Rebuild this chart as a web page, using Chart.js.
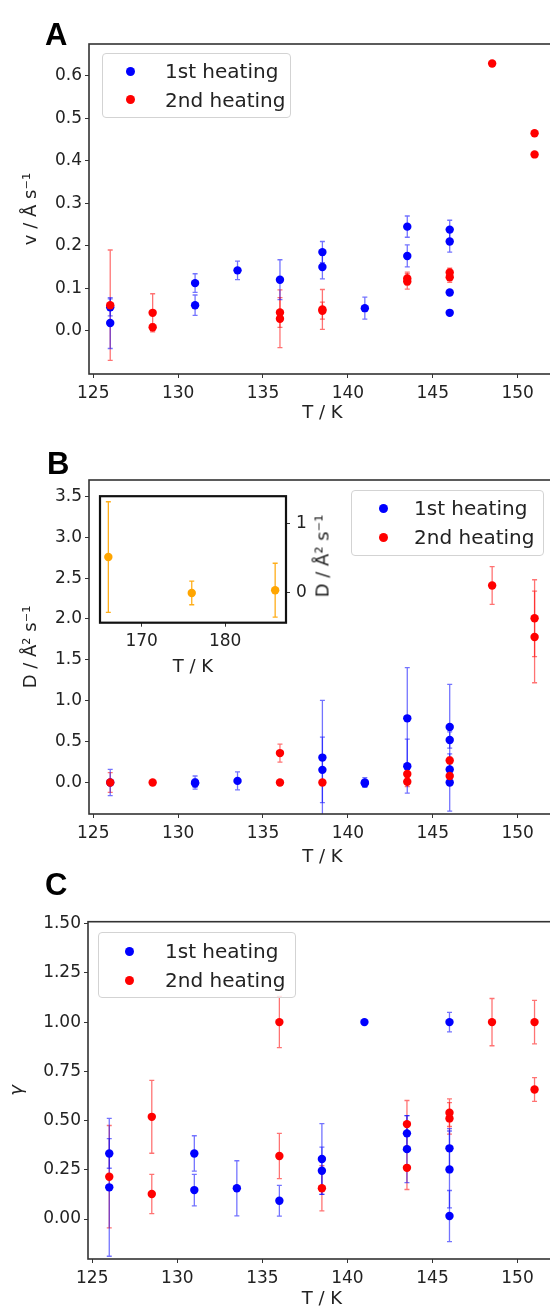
<!DOCTYPE html>
<html><head><meta charset="utf-8">
<script src="https://cdn.jsdelivr.net/npm/chart.js@4.4.1/dist/chart.umd.min.js"></script>
<style>
html,body{margin:0;padding:0;background:#fff;width:550px;height:1310px;overflow:hidden;}
#wrap{position:relative;width:550px;height:1310px;overflow:hidden;}
canvas{position:absolute;left:0;}
.letter{position:absolute;font:bold 31px "Liberation Sans",Arial,sans-serif;line-height:31px;color:#000;}
.legend{position:absolute;background:rgba(255,255,255,0.8);border:1px solid #d3d3d3;border-radius:4px;box-sizing:border-box;font:20px "DejaVu Sans";color:#222;}
.legend .row{position:absolute;height:24px;line-height:24px;white-space:nowrap;}
.legend .dot{position:absolute;width:9px;height:9px;border-radius:50%;}
.ylab{position:absolute;font:18px "DejaVu Sans";color:#222;white-space:nowrap;transform:translate(-50%,-50%) rotate(-90deg);}
</style></head>
<body><div id="wrap">
<canvas id="cA" width="560" height="425" style="top:0px"></canvas>
<canvas id="cB" width="560" height="440" style="top:430px"></canvas>
<canvas id="cIn" width="266" height="200" style="top:480px;left:60px"></canvas>
<canvas id="cC" width="560" height="440" style="top:870px"></canvas>
<div class="letter" style="left:45px;top:19px">A</div>
<div class="letter" style="left:47px;top:448px">B</div>
<div class="letter" style="left:45px;top:869px">C</div>
<div class="ylab" style="left:322px;top:556px">D / Å² s⁻¹</div>
</div>
<script>
// ---------------- DATA ----------------
const FONT = '"DejaVu Sans", sans-serif';
const seriesNames = ['1st heating', '2nd heating'];
const xTicks = [125, 130, 135, 140, 145, 150];
const yTicksA = [0.0, 0.1, 0.2, 0.3, 0.4, 0.5, 0.6];
const yTicksB = [0.0, 0.5, 1.0, 1.5, 2.0, 2.5, 3.0, 3.5];
const yTicksC = [0.00, 0.25, 0.50, 0.75, 1.00, 1.25, 1.50];
const xTicksIn = [170, 180];
const yTicksIn = [0, 1];

// Panel A: v / Å s^-1
const tA1 = [126, 126, 131, 131, 133.5, 136, 138.5, 138.5, 141, 143.5, 143.5, 146, 146, 146, 146];
const vA1 = [0.055, 0.018, 0.112, 0.060, 0.142, 0.120, 0.185, 0.150, 0.053, 0.245, 0.176, 0.238, 0.210, 0.090, 0.042];
const eA1 = [0.020, 0.060, 0.022, 0.024, 0.022, 0.047, 0.025, 0.028, 0.026, 0.025, 0.026, 0.022, 0.025, 0.006, 0.005];
const tA2 = [126, 128.5, 128.5, 136, 136, 138.5, 138.5, 143.5, 143.5, 146, 146, 148.5, 151, 151];
const vA2 = [0.060, 0.042, 0.008, 0.043, 0.028, 0.050, 0.047, 0.123, 0.116, 0.137, 0.126, 0.629, 0.465, 0.415];
const eA2 = [0.130, 0.045, 0.008, 0.035, 0.068, 0.047, 0.020, 0.015, 0.018, 0.010, 0.012, 0, 0, 0];

// Panel B: D / Å^2 s^-1
const tB1 = [126, 131, 131, 133.5, 138.5, 138.5, 141, 141, 143.5, 143.5, 146, 146, 146, 146];
const vB1 = [0.0, 0.0, -0.01, 0.02, 0.305, 0.155, 0.0, -0.01, 0.785, 0.20, 0.68, 0.52, 0.16, 0.0];
const eB1 = [0.16, 0.08, 0.05, 0.11, 0.70, 0.40, 0.06, 0.04, 0.62, 0.33, 0.52, 0.10, 0.10, 0.35];
const tB2 = [126, 128.5, 136, 136, 138.5, 143.5, 143.5, 146, 146, 148.5, 151, 151];
const vB2 = [0.0, 0.0, 0.36, 0.0, 0.0, 0.105, 0.01, 0.27, 0.08, 2.41, 2.01, 1.78];
const eB2 = [0.12, 0.02, 0.11, 0.02, 0.02, 0.05, 0.06, 0.04, 0.03, 0.23, 0.47, 0.56];

// Panel B inset
const tIn = [166, 176, 186];
const vIn = [0.52, 0.0, 0.04];
const eIn = [0.80, 0.17, 0.39];

// Panel C: gamma
const tC1 = [126, 126, 131, 131, 133.5, 136, 138.5, 138.5, 141, 143.5, 143.5, 146, 146, 146, 146];
const vC1 = [0.333, 0.161, 0.333, 0.147, 0.156, 0.093, 0.305, 0.245, 1.0, 0.435, 0.355, 1.0, 0.359, 0.252, 0.015];
const eC1 = [0.075, 0.35, 0.09, 0.08, 0.14, 0.078, 0.18, 0.12, 0, 0.09, 0.17, 0.05, 0.10, 0.195, 0.13];
const tC2 = [126, 128.5, 128.5, 136, 136, 138.5, 143.5, 143.5, 146, 146, 148.5, 151, 151];
const vC2 = [0.215, 0.519, 0.127, 1.0, 0.32, 0.156, 0.482, 0.26, 0.54, 0.511, 1.0, 1.0, 0.658];
const eC2 = [0.26, 0.185, 0.10, 0.13, 0.115, 0.115, 0.12, 0.11, 0.07, 0.08, 0.12, 0.11, 0.06];

// ---------------- PLUGINS ----------------
const errorBars = {
  id: 'errorBars',
  beforeDatasetsDraw(chart) {
    const {ctx, chartArea: a, scales: {x, y}} = chart;
    ctx.save();
    ctx.beginPath(); ctx.rect(a.left, a.top, a.right - a.left, a.bottom - a.top); ctx.clip();
    chart.data.datasets.forEach(ds => {
      if (!ds.errors) return;
      ctx.strokeStyle = ds.errColor; ctx.lineWidth = 1.3;
      ds.data.forEach((p, i) => {
        const e = ds.errors[i]; if (!e) return;
        const px = x.getPixelForValue(p.x);
        const y1 = y.getPixelForValue(p.y - e), y2 = y.getPixelForValue(p.y + e);
        ctx.beginPath();
        ctx.moveTo(px, y1); ctx.lineTo(px, y2);
        ctx.moveTo(px - 2.5, y1); ctx.lineTo(px + 2.5, y1);
        ctx.moveTo(px - 2.5, y2); ctx.lineTo(px + 2.5, y2);
        ctx.stroke();
      });
    });
    ctx.restore();
  }
};
const frame = {
  id: 'frame',
  beforeDraw(chart, args, o) {
    if (!o.fill) return;
    const a = chart.chartArea, ctx = chart.ctx;
    ctx.save(); ctx.fillStyle = '#fff'; ctx.fillRect(a.left, a.top, a.right - a.left, a.bottom - a.top); ctx.restore();
  },
  afterDatasetsDraw(chart, args, o) {
    const a = chart.chartArea, ctx = chart.ctx;
    ctx.save(); ctx.strokeStyle = o.color || '#333'; ctx.lineWidth = o.width || 1.6;
    ctx.strokeRect(a.left, a.top, a.right - a.left, a.bottom - a.top); ctx.restore();
  }
};

function pts(t, v) { return t.map((x, i) => ({x: x, y: v[i]})); }
function ds(label, t, v, e, col, errCol) {
  return {label, data: pts(t, v), errors: e, errColor: errCol,
    backgroundColor: col, borderColor: col, pointRadius: 4.2, pointBorderWidth: 0, pointHoverRadius: 4.2, showLine: false};
}
function tickGrid() { return {display: true, drawOnChartArea: false, drawTicks: true, tickLength: 4, color: '#333', lineWidth: 1}; }

function mainChart(id, sets, cfg) {
  return new Chart(document.getElementById(id), {
    type: 'scatter',
    data: {datasets: sets},
    plugins: [errorBars, frame],
    options: {
      responsive: false, animation: false, events: [],
      layout: {padding: {left: 0, top: cfg.padTop, right: 4, bottom: 0}},
      plugins: {legend: {display: false}, tooltip: {enabled: false}, frame: {}},
      scales: {
        x: {type: 'linear', min: 124.75, max: 152.25,
          afterBuildTicks: s => { s.ticks = xTicks.map(v => ({value: v})); },
          afterFit: s => { s.height = cfg.xH; },
          grid: tickGrid(), border: {display: false},
          ticks: {color: '#222', font: {family: FONT, size: 17}, padding: 5, maxRotation: 0, autoSkip: false, callback: v => String(v)},
          title: {display: true, text: 'T / K', color: '#222', font: {family: FONT, size: 18}, padding: {top: 0, bottom: cfg.xTitlePad}}},
        y: {type: 'linear', min: cfg.yMin, max: cfg.yMax,
          afterBuildTicks: s => { s.ticks = cfg.yTicks.map(v => ({value: v})); },
          afterFit: s => { s.width = cfg.yW; },
          grid: tickGrid(), border: {display: false},
          ticks: {color: '#222', font: {family: FONT, size: 17}, padding: 3, autoSkip: false, callback: v => Number(v).toFixed(cfg.dec)},
          title: {display: true, text: cfg.yTitle, color: '#222', font: {family: FONT, size: 18, style: cfg.yStyle || 'normal'}, padding: {top: cfg.yTitlePad, bottom: 0}}}
      }
    }
  });
}

const BLUE = 'rgb(0,0,255)', RED = 'rgb(255,0,0)';
const BLUE_E = 'rgba(0,0,255,0.55)', RED_E = 'rgba(255,0,0,0.55)';

mainChart('cA', [ds(seriesNames[1], tA2, vA2, eA2, RED, RED_E), ds(seriesNames[0], tA1, vA1, eA1, BLUE, BLUE_E)],
  {padTop: 44, xH: 51, xTitlePad: 1.2, yMin: -0.102, yMax: 0.675, yTicks: yTicksA, dec: 1, yW: 89, yTitle: 'v / Å s⁻¹', yTitlePad: 20.5});
mainChart('cB', [ds(seriesNames[1], tB2, vB2, eB2, RED, RED_E), ds(seriesNames[0], tB1, vB1, eB1, BLUE, BLUE_E)],
  {padTop: 50, xH: 56, xTitlePad: 2.2, yMin: -0.385, yMax: 3.70, yTicks: yTicksB, dec: 1, yW: 89, yTitle: 'D / Å² s⁻¹', yTitlePad: 20.5});
mainChart('cC', [ds(seriesNames[1], tC2, vC2, eC2, RED, RED_E), ds(seriesNames[0], tC1, vC1, eC1, BLUE, BLUE_E)],
  {padTop: 51.7, xH: 51, xTitlePad: 0, yMin: -0.203, yMax: 1.51, yTicks: yTicksC, dec: 2, yW: 88, yTitle: 'γ', yStyle: 'italic', yTitlePad: 7});

// Inset
new Chart(document.getElementById('cIn'), {
  type: 'scatter',
  data: {datasets: [ds('inset', tIn, vIn, eIn, 'rgb(255,165,0)', 'rgba(255,165,0,0.9)')]},
  plugins: [errorBars, frame],
  options: {
    responsive: false, animation: false, events: [],
    layout: {padding: {left: 40, top: 10, right: 0, bottom: 0}},
    plugins: {legend: {display: false}, tooltip: {enabled: false}, frame: {fill: true, color: '#111', width: 2.2}},
    scales: {
      x: {type: 'linear', min: 165, max: 187.3,
        afterBuildTicks: s => { s.ticks = xTicksIn.map(v => ({value: v})); },
        afterFit: s => { s.height = 57.3; },
        grid: tickGrid(), border: {display: false},
        ticks: {color: '#222', font: {family: FONT, size: 17}, padding: 5, maxRotation: 0, autoSkip: false, callback: v => String(v)},
        title: {display: true, text: 'T / K', color: '#222', font: {family: FONT, size: 18}, padding: {top: 0, bottom: 2.2}}},
      y: {type: 'linear', position: 'right', min: -0.43, max: 1.40,
        afterBuildTicks: s => { s.ticks = yTicksIn.map(v => ({value: v})); },
        afterFit: s => { s.width = 40; },
        grid: tickGrid(), border: {display: false},
        ticks: {color: '#222', font: {family: FONT, size: 17}, padding: 6, autoSkip: false, callback: v => String(v)}}
    }
  }
});

// Legends (HTML)
function legend(left, top, w, h, dotX, textX, rows) {
  const box = document.createElement('div');
  box.className = 'legend';
  Object.assign(box.style, {left: left + 'px', top: top + 'px', width: w + 'px', height: h + 'px'});
  [[seriesNames[0], BLUE], [seriesNames[1], RED]].forEach(([name, col], i) => {
    const dot = document.createElement('div');
    dot.className = 'dot';
    Object.assign(dot.style, {background: col, left: (dotX - 4.5) + 'px', top: (rows[i] - 4.5) + 'px'});
    const r = document.createElement('div');
    r.className = 'row'; r.textContent = name;
    Object.assign(r.style, {left: textX + 'px', top: (rows[i] - 12) + 'px'});
    box.appendChild(dot); box.appendChild(r);
  });
  document.getElementById('wrap').appendChild(box);
}
legend(102, 53, 189, 65, 27, 62, [17, 45.5]);
legend(351, 490, 193, 66, 31, 62, [17, 46]);
legend(98, 932, 198, 66, 30, 66, [18, 47]);
</script>
</body></html>
